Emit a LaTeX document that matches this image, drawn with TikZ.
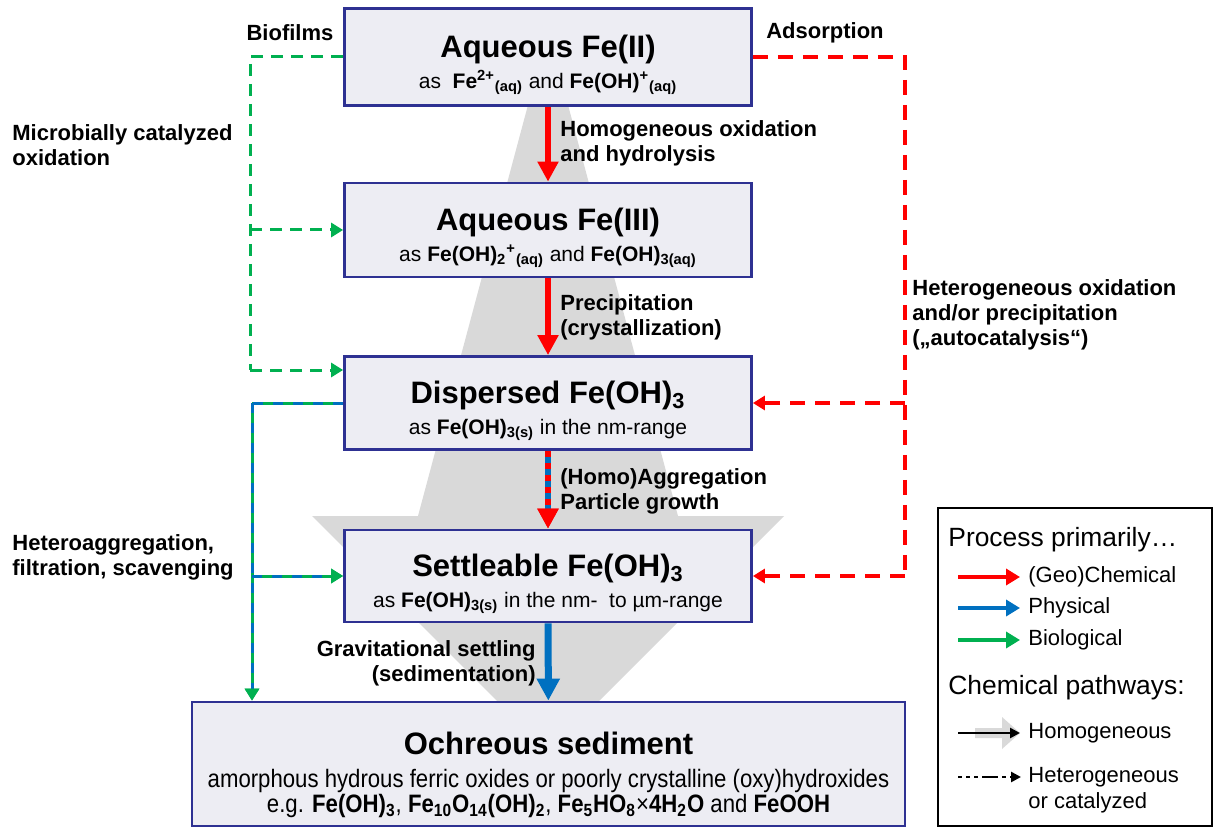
\documentclass[tikz,border=0pt]{standalone}
\usepackage{fontspec}
\setmainfont{Liberation Sans}
\newfontfamily\narrowsans[FakeStretch=0.88]{Liberation Sans}
\usetikzlibrary{arrows.meta,positioning}
\definecolor{boxline}{HTML}{2E3192}
\definecolor{boxfill}{HTML}{EDEDF3}
\definecolor{chemred}{HTML}{FF0000}
\definecolor{physblue}{HTML}{0070C0}
\definecolor{biogreen}{HTML}{00B050}
\definecolor{pathgray}{HTML}{D9D9D9}
\newcommand{\speciesfont}{\bfseries\fontsize{15.5}{15.5}\selectfont\rule{0pt}{19pt}}
\tikzset{
    species/.style={rectangle,draw=boxline,fill=boxfill,line width=1.4pt,align=center,inner sep=0pt,minimum width=203.5pt,font=\fontsize{10.5}{15.5}\selectfont},
    note/.style={font=\bfseries\fontsize{11}{12.5}\selectfont,align=left,inner sep=0pt},
    legtext/.style={font=\fontsize{11}{13}\selectfont,anchor=west,inner sep=0pt,align=left},
    leghead/.style={font=\fontsize{13.2}{15}\selectfont,anchor=west,inner sep=0pt},
    chem/.style={-{Triangle[length=10pt,width=10pt]},chemred,line width=3pt},
    phys/.style={-{Triangle[length=11pt,width=11pt]},physblue,line width=3.5pt},
    chemphys/.style={-{Triangle[length=10pt,width=10pt,color=chemred]},physblue,line width=3pt,postaction={draw=chemred,dash pattern=on 3pt off 3pt}},
    chemdash/.style={chemred,line width=2pt,dash pattern=on 7.5pt off 5pt},
    biodash/.style={biogreen,line width=1.5pt,dash pattern=on 6pt off 4pt},
    physbio/.style={biogreen,line width=1.5pt,postaction={draw=physblue,dash pattern=on 5pt off 5pt}},
    redtip/.style={-{Triangle[length=6pt,width=7pt]}},
    greentip/.style={-{Triangle[length=6pt,width=7pt,color=biogreen]}},
    legarrow/.style={-{Triangle[length=7pt,width=8pt]},line width=2pt}
}

\begin{document}
\begin{tikzpicture}[x=0.5pt,y=-0.5pt]

    \useasboundingbox (0,0) rectangle (1214,828);

    % homogeneous pathway
    \fill[pathgray] (532,90) -- (564,90) -- (678,516) -- (784,516) -- (548,752) -- (312,516) -- (418,516) -- cycle;

    \node[species,minimum height=48.5pt] (fe2) at (548,57)
        {{\speciesfont Aqueous Fe(II)}\\as\ \ \textbf{Fe\textsuperscript{2+}\textsubscript{(aq)}} and \textbf{Fe(OH)\textsuperscript{+}\textsubscript{(aq)}}};
    \node[species,minimum height=47pt] (fe3) at (548,230)
        {{\speciesfont Aqueous Fe(III)}\\as \textbf{Fe(OH)\textsubscript{2}\textsuperscript{+}\textsubscript{(aq)}} and \textbf{Fe(OH)\textsubscript{3(aq)}}};
    \node[species,minimum height=46.5pt] (disp) at (548,403)
        {{\speciesfont Dispersed Fe(OH)\textsubscript{3}}\\as \textbf{Fe(OH)\textsubscript{3(s)}} in the nm-range};
    \node[species,minimum height=46pt] (settl) at (548,576)
        {{\speciesfont Settleable Fe(OH)\textsubscript{3}}\\as \textbf{Fe(OH)\textsubscript{3(s)}} in the nm-\ \ to µm-range};
    \node[species,minimum width=356.5pt,minimum height=62pt,font=\fontsize{12.6}{12.5}\selectfont] (ochre) at (548.5,764)
        {{\speciesfont\rule{0pt}{22pt}Ochreous sediment}\\[4pt]
         {\narrowsans amorphous hydrous ferric oxides or poorly crystalline (oxy)hydroxides}\\
         {\narrowsans e.g. \textbf{Fe(OH)\textsubscript{3}}, \textbf{Fe\textsubscript{10}O\textsubscript{14}(OH)\textsubscript{2}}, \textbf{Fe\textsubscript{5}HO\textsubscript{8}}×\textbf{4H\textsubscript{2}O} and \textbf{FeOOH}}};

    % main sequence
    \draw[chem] (fe2) -- (fe3);
    \draw[chem] (fe3) -- (disp);
    \draw[chemphys] (disp) -- (settl);
    \draw[phys] (settl) -- (ochre);

    \node[note,anchor=west] (oxid) at (560,143) {Homogeneous oxidation\\and hydrolysis};
    \node[note,anchor=west] (precip) at (560,317) {Precipitation\\(crystallization)};
    \node[note,anchor=west] (aggr) at (560,491) {(Homo)Aggregation\\Particle growth};
    \node[note,anchor=east,align=right] (settling) at (536,663) {Gravitational settling\\(sedimentation)};

    % biological branch
    \coordinate (bioCorner) at (250,57);
    \coordinate (bioEnd) at (250,370);
    \draw[biodash] (fe2.west) -- (bioCorner) -- (bioEnd);
    \draw[biodash,greentip] (bioCorner |- fe3.west) -- (fe3.west);
    \draw[biodash,greentip] (bioEnd) -- (bioEnd -| disp.west);

    \node[note] (biofilm) at (290,33) {Biofilms};
    \node[note,anchor=west] (microb) at (12,145) {Microbially catalyzed\\oxidation};

    % physical / biological removal
    \coordinate (hetCorner) at (252,403);
    \draw[physbio] (disp.west) -- (hetCorner);
    \draw[physbio,greentip] (hetCorner) -- (hetCorner |- ochre.north);
    \draw[physbio,greentip] (hetCorner |- settl.west) -- (settl.west);

    \node[note,anchor=west] (scav) at (12,557) {Heteroaggregation,\\filtration, scavenging};

    % autocatalysis
    \coordinate (adsCorner) at (905,57);
    \coordinate (adsEnd) at (905,576);
    \draw[chemdash] (fe2.east) -- (adsCorner) -- (adsEnd);
    \draw[chemdash,redtip] (adsCorner |- disp.east) -- (disp.east);
    \draw[chemdash,redtip] (adsEnd) -- (settl.east);

    \node[note] (adsorp) at (825,33) {Adsorption};
    \node[note,anchor=west] (autocat) at (912,315) {Heterogeneous oxidation\\and/or precipitation\\(„autocatalysis“)};

    % legend
    \node[draw=black,line width=0.9pt,minimum width=137pt,minimum height=159pt,inner sep=0pt] (legend) at (1075,667) {};
    \node[leghead] (lproc) at (948,540) {Process primarily…};
    \node[legtext] (lgeo) at (1028,577) {(Geo)Chemical};
    \node[legtext] (lphys) at (1028,608) {Physical};
    \node[legtext] (lbio) at (1028,640) {Biological};
    \node[leghead] (lpath) at (948,688) {Chemical pathways:};
    \node[legtext] (lhomo) at (1028,733) {Homogeneous};
    \node[legtext] (lhet) at (1028,790) {Heterogeneous\\or catalyzed};

    \coordinate (geoStart) at (958,577);
    \coordinate (physStart) at (958,608);
    \coordinate (bioStart) at (958,640);
    \coordinate (homoStart) at (958,733);
    \coordinate (hetStart) at (958,777);
    \coordinate (hetTip) at (1021,777);

    \draw[legarrow,chemred] (geoStart) -- ([xshift=-4pt]lgeo.west);
    \draw[legarrow,physblue] (physStart) -- ([xshift=-4pt]lphys.west);
    \draw[legarrow,biogreen] (bioStart) -- ([xshift=-4pt]lbio.west);

    \fill[pathgray] (975,728) -- (1002,728) -- (1002,717) -- (1020,733) -- (1002,749) -- (1002,738) -- (975,738) -- cycle;
    \draw[-{Triangle[length=5pt,width=5pt]},line width=1.3pt] (homoStart) -- ([xshift=-4pt]lhomo.west);
    \draw[-{Triangle[length=5pt,width=5pt]},line width=1.3pt,dash pattern=on 2pt off 2pt on 2pt off 2pt on 2pt off 2pt on 8pt off 2pt] (hetStart) -- (hetTip);

\end{tikzpicture}
\end{document}
